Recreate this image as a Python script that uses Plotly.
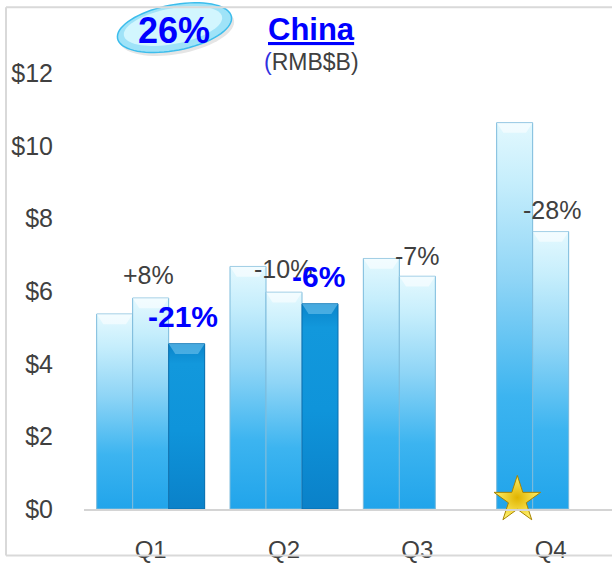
import math
import plotly.graph_objects as go

# ---- data ----
quarters = ["Q1", "Q2", "Q3", "Q4"]
series_a = [5.37, 6.68, 6.90, 10.64]
series_b = [5.81, 5.97, 6.41, 7.64]
series_c = [4.55, 5.65, None, None]
growth_labels = ["+8%", "-10%", "-7%", "-28%"]
highlight_labels = ["-21%", "-6%"]
y_ticks = [0, 2, 4, 6, 8, 10, 12]
y_tick_text = ["$0", "$2", "$4", "$6", "$8", "$10", "$12"]

# ---- geometry helpers (pixel layout) ----
W, H = 612, 563
ML, MR, MT, MB = 84, 0, 37, 49
PW, PH = W - ML - MR, H - MT - MB
X_RANGE = [-0.5, 3.46]
Y_RANGE = [0, 13]
BW = 0.27  # bar width in category units
OFFS = [-BW, 0.0, BW]

def px_to_paper(px, py):
    return (px - ML) / PW, (H - MB - py) / PH

GRAY = "#404040"
BLUE = "#0000ff"

light_scale = [[0.0, "#1fa3ea"], [0.3, "#3cb4f0"], [0.6, "#8fd5f6"], [0.85, "#c6eefc"], [1.0, "#e2f8fe"]]
dark_scale = [[0.0, "#0a80c8"], [0.5, "#0f94da"], [0.9, "#1298dc"], [1.0, "#0b86cc"]]

fig = go.Figure()

series = [series_a, series_b, series_c]
base_cols = ["#7fd0f5", "#7fd0f5", "#0f92d8"]
for si, vals in enumerate(series):
    fig.add_trace(go.Bar(
        x=list(range(len(quarters))), y=vals, width=BW, offset=OFFS[si] - BW / 2,
        marker=dict(color=base_cols[si], line=dict(width=0)),
        showlegend=False, hoverinfo="skip"))

# gradient overlays for each bar (derived from the same data)
for si, vals in enumerate(series):
    for qi, v in enumerate(vals):
        if v is None:
            continue
        x0 = qi + OFFS[si] - BW / 2
        x1 = qi + OFFS[si] + BW / 2
        scale = dark_scale if si == 2 else light_scale
        fig.add_trace(go.Scatter(
            x=[x0, x1, x1, x0, x0], y=[0, 0, v, v, 0],
            mode="lines", fill="toself",
            fillgradient=dict(type="vertical", colorscale=scale, start=0, stop=v),
            line=dict(color="#0a6fae" if si == 2 else "#7fbcdc", width=1),
            showlegend=False, hoverinfo="skip"))
        # top bevel highlight
        hh = 0.28
        fig.add_trace(go.Scatter(
            x=[x0, x1, x1 - 0.05, x0 + 0.05, x0], y=[v, v, v - hh, v - hh, v],
            mode="lines", fill="toself",
            fillcolor="rgba(255,255,255,0.55)" if si != 2 else "rgba(120,200,240,0.55)",
            line=dict(width=0),
            showlegend=False, hoverinfo="skip"))

# star
fig.add_trace(go.Scatter(
    x=[3 + OFFS[0] + 0.02], y=[0.25], mode="markers",
    marker=dict(symbol="star", size=35, color="#fff06a",
                gradient=dict(type="radial", color="#e0b400"),
                line=dict(color="#a88400", width=1)),
    cliponaxis=False, showlegend=False, hoverinfo="skip"))

annotations = []
# gray growth labels
gray_pos = [(-0.02, 6.44), (0.9925, 6.6), (1.997, 6.98), (3.01, 8.24)]
for (x, y), t in zip(gray_pos, growth_labels):
    annotations.append(dict(x=x, y=y, text=t, showarrow=False, xanchor="center", yanchor="middle",
                            font=dict(size=25, color=GRAY)))
blue_pos = [(0.2425, 5.29), (1.255, 6.41)]
for (x, y), t in zip(blue_pos, highlight_labels):
    annotations.append(dict(x=x, y=y, text="<b>" + t + "</b>", showarrow=False,
                            xanchor="center", yanchor="middle",
                            font=dict(size=30, color=BLUE)))

# title texts
cx, cy = px_to_paper(311, 29)
annotations.append(dict(x=cx, y=cy, xref="paper", yref="paper", text="<b><u>China</u></b>",
                        showarrow=False, xanchor="center", yanchor="middle",
                        font=dict(size=31, color=BLUE)))
cx, cy = px_to_paper(311, 62)
annotations.append(dict(x=cx, y=cy, xref="paper", yref="paper",
                        text="<span style='color:#3030e0'>(</span>RMB$B)",
                        showarrow=False, xanchor="center", yanchor="middle",
                        font=dict(size=23, color=GRAY)))
cx, cy = px_to_paper(174, 30)
annotations.append(dict(x=cx, y=cy, xref="paper", yref="paper", text="<b>26%</b>",
                        showarrow=False, xanchor="center", yanchor="middle",
                        font=dict(size=36, color=BLUE)))

# oval path (tilted), with soft shadow and inner highlight
def ellipse_path(ecx, ecy, ea, eb, ang_deg):
    ang = math.radians(ang_deg)
    pts = []
    for k in range(73):
        t = 2 * math.pi * k / 72
        ex = ea * math.cos(t)
        ey = eb * math.sin(t)
        px = ecx + ex * math.cos(ang) - ey * math.sin(ang)
        py = ecy + ex * math.sin(ang) + ey * math.cos(ang)
        pts.append(px_to_paper(px, py))
    return "M " + " L ".join(f"{a:.4f},{b:.4f}" for a, b in pts) + " Z"

shapes = [
    dict(type="path", path=ellipse_path(177, 31, 58, 23, -11), xref="paper", yref="paper",
         fillcolor="rgba(150,150,150,0.25)", line=dict(width=0), layer="below"),
    dict(type="path", path=ellipse_path(174.5, 27.5, 58, 23, -11), xref="paper", yref="paper",
         fillcolor="#9fe3f8", line=dict(color="#3dbdec", width=1.5), layer="below"),
    dict(type="path", path=ellipse_path(173, 26, 50, 18, -11), xref="paper", yref="paper",
         fillcolor="#d2f6fe", line=dict(width=0), layer="below"),
]
# frame lines
fx0, fy_top = px_to_paper(6, 7)
fx1, fy_bot = px_to_paper(612, 561)
shapes += [
    dict(type="line", xref="paper", yref="paper", x0=fx0, x1=fx1, y0=fy_top, y1=fy_top,
         line=dict(color="#d9d9d9", width=2)),
    dict(type="line", xref="paper", yref="paper", x0=fx0, x1=fx0, y0=fy_top, y1=fy_bot,
         line=dict(color="#d9d9d9", width=2)),
    dict(type="line", xref="paper", yref="paper", x0=fx0, x1=fx1, y0=fy_bot, y1=fy_bot,
         line=dict(color="#d9d9d9", width=2)),
]

fig.update_layout(
    width=W, height=H, autosize=False,
    margin=dict(l=ML, r=MR, t=MT, b=MB, pad=0),
    paper_bgcolor="white", plot_bgcolor="white",
    font=dict(family="Liberation Sans, Arial, sans-serif", color=GRAY),
    barmode="overlay", showlegend=False,
    xaxis=dict(range=X_RANGE, tickvals=list(range(len(quarters))), ticktext=quarters,
               showgrid=False, zeroline=False, showline=True, linecolor="#d4d4d4", linewidth=2,
               ticks="", ticklabelstandoff=18, tickfont=dict(size=24, color=GRAY), fixedrange=True),
    yaxis=dict(range=Y_RANGE, tickvals=y_ticks, ticktext=y_tick_text, showgrid=False, zeroline=False,
               showline=False, ticks="", ticklabelstandoff=30,
               tickfont=dict(size=25, color=GRAY), fixedrange=True),
    annotations=annotations, shapes=shapes,
)

fig.write_html("out.html", config={"responsive": False, "displayModeBar": False},
               post_script="document.body.style.margin='0px';document.body.style.overflow='hidden';")
